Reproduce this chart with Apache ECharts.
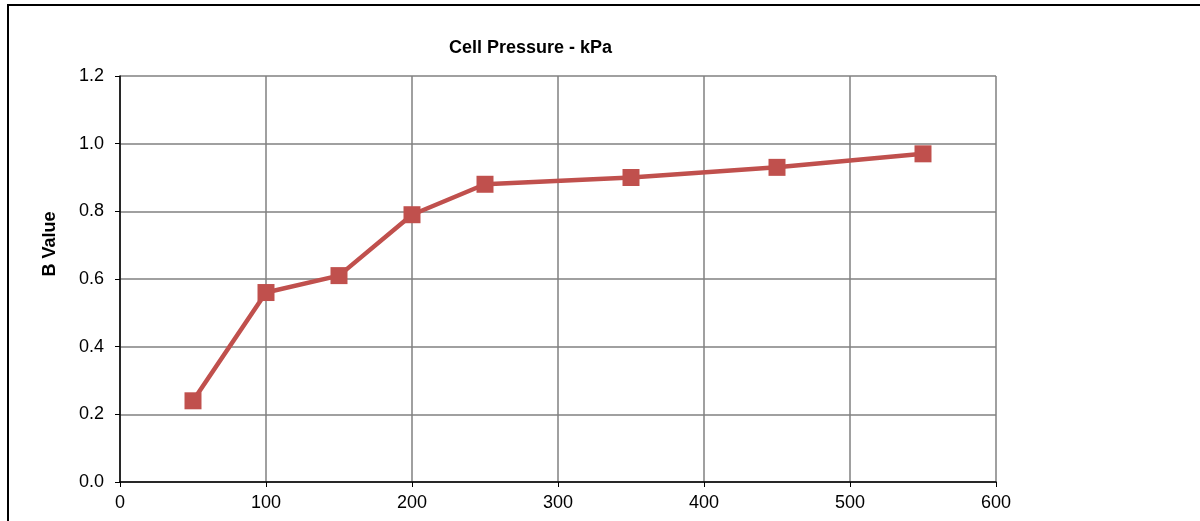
<!DOCTYPE html>
<html>
<head>
<meta charset="utf-8">
<script src="https://cdn.jsdelivr.net/npm/echarts@6/dist/echarts.min.js"></script>
<style>
html,body{margin:0;padding:0;background:#fff;}
#c{width:1200px;height:521px;position:relative;}
#frame{position:absolute;left:7px;top:4px;width:1300px;height:600px;border-left:2px solid #000;border-top:2px solid #000;pointer-events:none;}
</style>
</head>
<body>
<div id="c"></div>
<div id="frame"></div>
<script>
const titleText = 'Cell Pressure - kPa';
const yName = 'B Value';
const pressures = [50, 100, 150, 200, 250, 350, 450, 550];
const bValues = [0.24, 0.56, 0.61, 0.79, 0.88, 0.90, 0.93, 0.97];

const chart = echarts.init(document.getElementById('c'));
const font = 'Liberation Sans, Arial, sans-serif';
chart.setOption({
  animation: false,
  title: {
    text: titleText, left: 444, top: 34,
    textStyle: {fontFamily: font, fontSize: 18, fontWeight: 'bold', color: '#000'}
  },
  graphic: [{
    type: 'text', x: 50, y: 244, rotation: Math.PI / 2,
    style: {text: yName, fontFamily: font, fontSize: 18, fontWeight: 'bold', fill: '#000', align: 'center', verticalAlign: 'middle'}
  }],
  grid: {left: 120, right: 204, top: 76, bottom: 39},
  xAxis: {
    type: 'value', min: 0, max: 600, interval: 100,
    axisLine: {onZero: false, lineStyle: {color: '#000', width: 1.5}},
    axisTick: {show: true, length: 5, lineStyle: {color: '#000'}},
    axisLabel: {margin: 12, fontFamily: font, fontSize: 18, color: '#000'},
    splitLine: {show: true, lineStyle: {color: '#808080', width: 1.5}}
  },
  yAxis: {
    type: 'value', min: 0, max: 1.2, interval: 0.2,
    axisLine: {show: true, lineStyle: {color: '#000', width: 1.5}},
    axisTick: {show: true, length: 5, lineStyle: {color: '#000'}},
    axisLabel: {margin: 16, fontFamily: font, fontSize: 18, color: '#000', formatter: v => v.toFixed(1)},
    splitLine: {show: true, lineStyle: {color: '#808080', width: 1.5}}
  },
  series: [{
    type: 'line',
    data: pressures.map((p, i) => [p, bValues[i]]),
    symbol: 'rect', symbolSize: 17,
    lineStyle: {color: '#C0504D', width: 4.5},
    itemStyle: {color: '#C0504D'}
  }]
});
</script>
</body>
</html>
